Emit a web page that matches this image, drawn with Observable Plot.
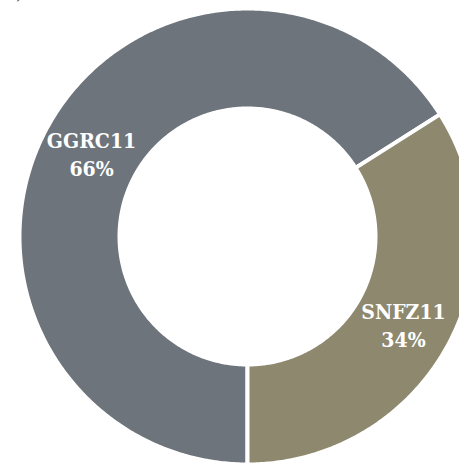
<!DOCTYPE html>
<html><head><meta charset="utf-8">
<script src="https://cdn.jsdelivr.net/npm/d3@7"></script>
<script src="https://cdn.jsdelivr.net/npm/@observablehq/plot@0.6"></script>
<style>body{margin:0;background:#fff} .lbl text{font-stretch:condensed}</style>
</head><body><div id="chart"></div>
<script>
const categories = ["GGRC11", "SNFZ11"];
const shares = [66, 34];
const colors = ["#6d747b", "#8e886e"];
const panelLabel = ["a)"];

// layout (pixels)
const W = 459, H = 463, cx = 247, cy = 236, R = 226, r0 = 130, gap = 4;
const k = R;
const xDomain = [-cx / k, (W - cx) / k];
const yDomain = [-(H - cy) / k, cy / k];
const rOut = (R + gap / 2) / k, rIn = (r0 - gap / 2) / k;

const arcs = d3.pie().sort(null).startAngle(Math.PI).endAngle(3 * Math.PI)(shares);
const poly = [];
arcs.forEach((a, i) => {
  const n = Math.max(2, Math.ceil((a.endAngle - a.startAngle) / 0.01));
  for (let j = 0; j <= n; j++) {
    const t = a.startAngle + (a.endAngle - a.startAngle) * j / n;
    poly.push({cat: categories[i], x: rOut * Math.sin(t), y: rOut * Math.cos(t)});
  }
  for (let j = n; j >= 0; j--) {
    const t = a.startAngle + (a.endAngle - a.startAngle) * j / n;
    poly.push({cat: categories[i], x: rIn * Math.sin(t), y: rIn * Math.cos(t)});
  }
});
const rMid = (R + r0) / 2 / k;
const labels = arcs.map((a, i) => {
  const t = (a.startAngle + a.endAngle) / 2;
  return {text: `${categories[i]}\n${shares[i]}%`, x: rMid * Math.sin(t), y: rMid * Math.cos(t)};
});

const chart = Plot.plot({
  width: W, height: H, margin: 0,
  style: {background: "white", overflow: "visible"},
  x: {domain: xDomain, axis: null},
  y: {domain: yDomain, axis: null},
  color: {domain: categories, range: colors},
  marks: [
    Plot.line(poly, {x: "x", y: "y", z: "cat", fill: "cat", stroke: "white", strokeWidth: gap, curve: "linear-closed"}),
    Plot.text(labels, {x: "x", y: "y", text: "text", fill: "white", fontSize: 21, fontWeight: "bold",
      fontFamily: "'DejaVu Serif Condensed', 'DejaVu Serif', serif", lineHeight: 1.33, dy: 2, className: "lbl"}),
    Plot.text(panelLabel, {frameAnchor: "top-left", dx: 6, dy: -13, lineAnchor: "top", fontSize: 16,
      fontFamily: "'DejaVu Serif', serif", fill: "#333"})
  ]
});
document.getElementById("chart").append(chart);
</script>
</body></html>
